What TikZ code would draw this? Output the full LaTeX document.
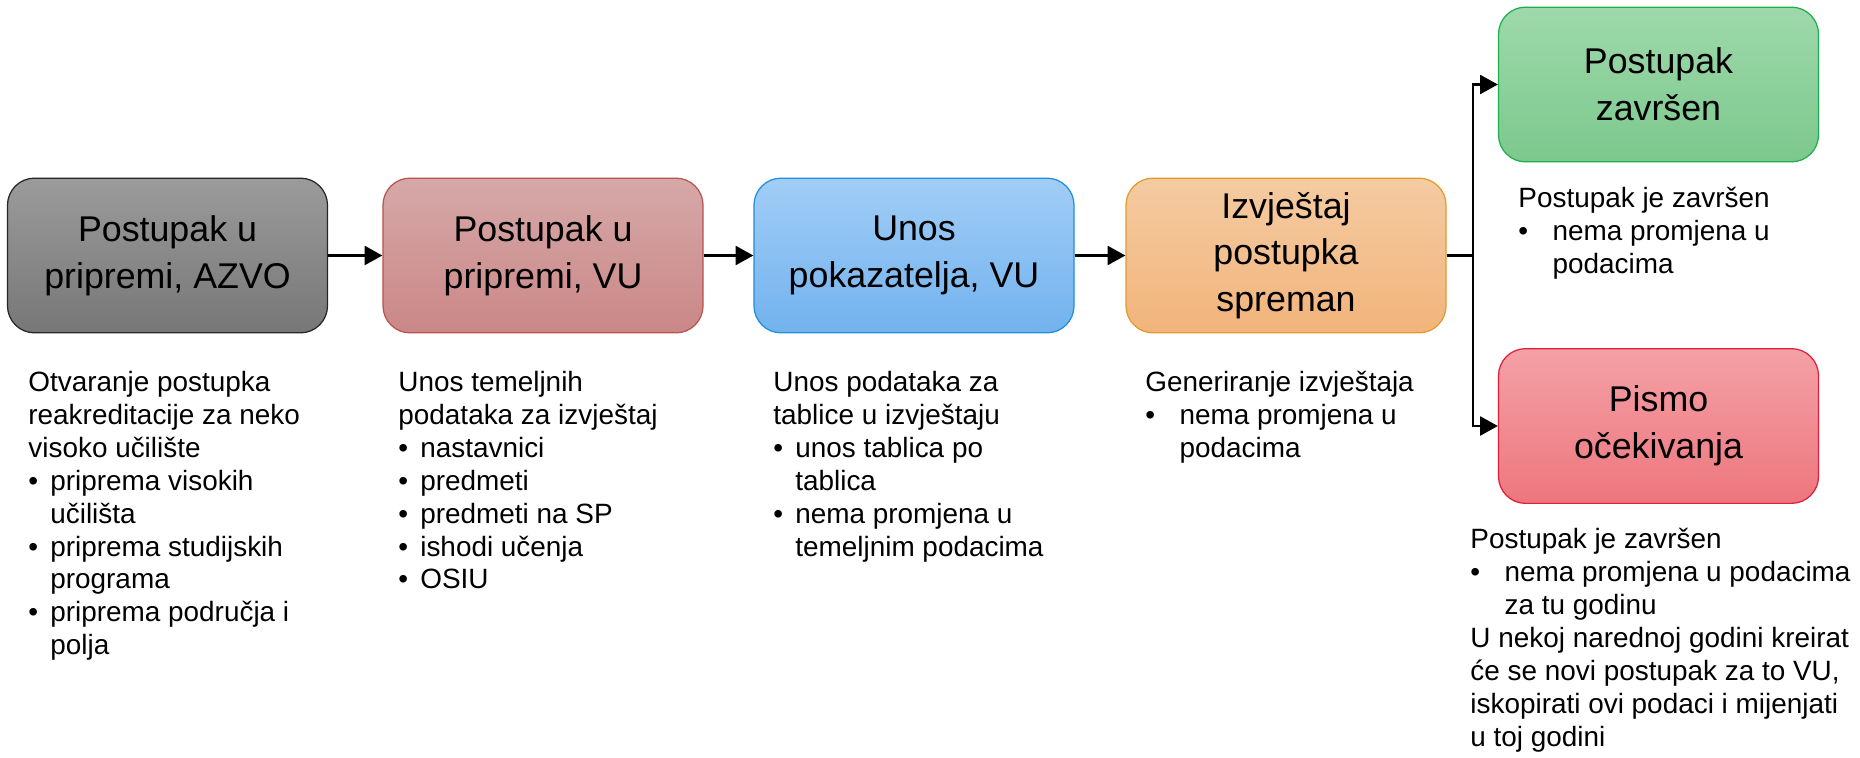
\documentclass[tikz,border=0pt]{standalone}
\usepackage{fontspec}
\setmainfont{Liberation Sans}
\usetikzlibrary{arrows.meta}

\newcommand{\bulN}{\makebox[10.6pt][l]{\textbullet}}
\newcommand{\indN}{\hspace*{10.6pt}}
\newcommand{\bulW}{\makebox[16.5pt][l]{\textbullet}}
\newcommand{\indW}{\hspace*{16.5pt}}

\begin{document}
\begin{tikzpicture}[x=0.017cm,y=-0.017cm,
    kutija/.style={draw, rounded corners=0.46cm, minimum width=5.44cm, minimum height=2.63cm,
                   align=center, font=\fontsize{17.3}{22.6}\selectfont, line width=0.6pt},
    opis/.style={anchor=north west, inner sep=0pt, align=left, font=\fontsize{13.5}{15.9}\selectfont},
    strelica/.style={line width=1.2pt, -{Triangle[length=3mm,width=3.2mm]}}]
        %boje
        \definecolor{sivaA}{HTML}{9B9B9B}   \definecolor{sivaB}{HTML}{777777}
        \definecolor{crvA}{HTML}{D6A8A8}    \definecolor{crvB}{HTML}{CB8787}   \definecolor{crvR}{HTML}{B85450}
        \definecolor{plavA}{HTML}{A1CDF6}   \definecolor{plavB}{HTML}{72B2EE}  \definecolor{plavR}{HTML}{1E8FDC}
        \definecolor{narA}{HTML}{F4CBA2}    \definecolor{narB}{HTML}{F2B47B}   \definecolor{narR}{HTML}{E39A2C}
        \definecolor{zelA}{HTML}{9ED9AB}    \definecolor{zelB}{HTML}{7CC88D}   \definecolor{zelR}{HTML}{1FAE4E}
        \definecolor{rozA}{HTML}{F3A1A6}    \definecolor{rozB}{HTML}{EE767E}   \definecolor{rozR}{HTML}{DF1F3A}

        \useasboundingbox (0,0) rectangle (1860,757);

        % Koraci postupka
        \node[kutija, draw=black!85, top color=sivaA, bottom color=sivaB] (azvo) at (167.5,255.5) {Postupak u\\pripremi, AZVO};
        \node[kutija, draw=crvR, top color=crvA, bottom color=crvB] (vu) at (543,255.5) {Postupak u\\pripremi, VU};
        \node[kutija, draw=plavR, top color=plavA, bottom color=plavB] (unos) at (914,255.5) {Unos\\pokazatelja, VU};
        \node[kutija, draw=narR, top color=narA, bottom color=narB] (izvjestaj) at (1286,255.5) {Izvještaj\\postupka\\spreman};
        \node[kutija, draw=zelR, top color=zelA, bottom color=zelB] (zavrsen) at (1658.5,84.5) {Postupak\\završen};
        \node[kutija, draw=rozR, top color=rozA, bottom color=rozB] (pismo) at (1658.5,426) {Pismo\\očekivanja};

        % Strelice
        \foreach \a/\b in {azvo/vu, vu/unos, unos/izvjestaj}
            \draw[strelica] (\a) -- (\b);
        \coordinate (grana) at (1473,255.5);
        \draw[line width=1.2pt] (izvjestaj) -- (grana);
        \draw[strelica] (grana) |- (zavrsen);
        \draw[strelica] (grana) |- (pismo);

        % Opisi
        \node[opis] (opisAzvo) at (28,371) {Otvaranje postupka\\
            reakreditacije za neko\\
            visoko učilište\\
            \bulN priprema visokih\\
            \indN učilišta\\
            \bulN priprema studijskih\\
            \indN programa\\
            \bulN priprema područja i\\
            \indN polja};
        \node[opis] (opisVu) at (398,371) {Unos temeljnih\\
            podataka za izvještaj\\
            \bulN nastavnici\\
            \bulN predmeti\\
            \bulN predmeti na SP\\
            \bulN ishodi učenja\\
            \bulN OSIU};
        \node[opis] (opisUnos) at (773,371) {Unos podataka za\\
            tablice u izvještaju\\
            \bulN unos tablica po\\
            \indN tablica\\
            \bulN nema promjena u\\
            \indN temeljnim podacima};
        \node[opis] (opisIzvj) at (1145,371) {Generiranje izvještaja\\
            \bulW nema promjena u\\
            \indW podacima};
        \node[opis] (opisZavrsen) at (1518,187) {Postupak je završen\\
            \bulW nema promjena u\\
            \indW podacima};
        \node[opis] (opisPismo) at (1470,528) {Postupak je završen\\
            \bulW nema promjena u podacima\\
            \indW za tu godinu\\
            U nekoj narednoj godini kreirat\\
            će se novi postupak za to VU,\\
            iskopirati ovi podaci i mijenjati\\
            u toj godini};
    \end{tikzpicture}
\end{document}
